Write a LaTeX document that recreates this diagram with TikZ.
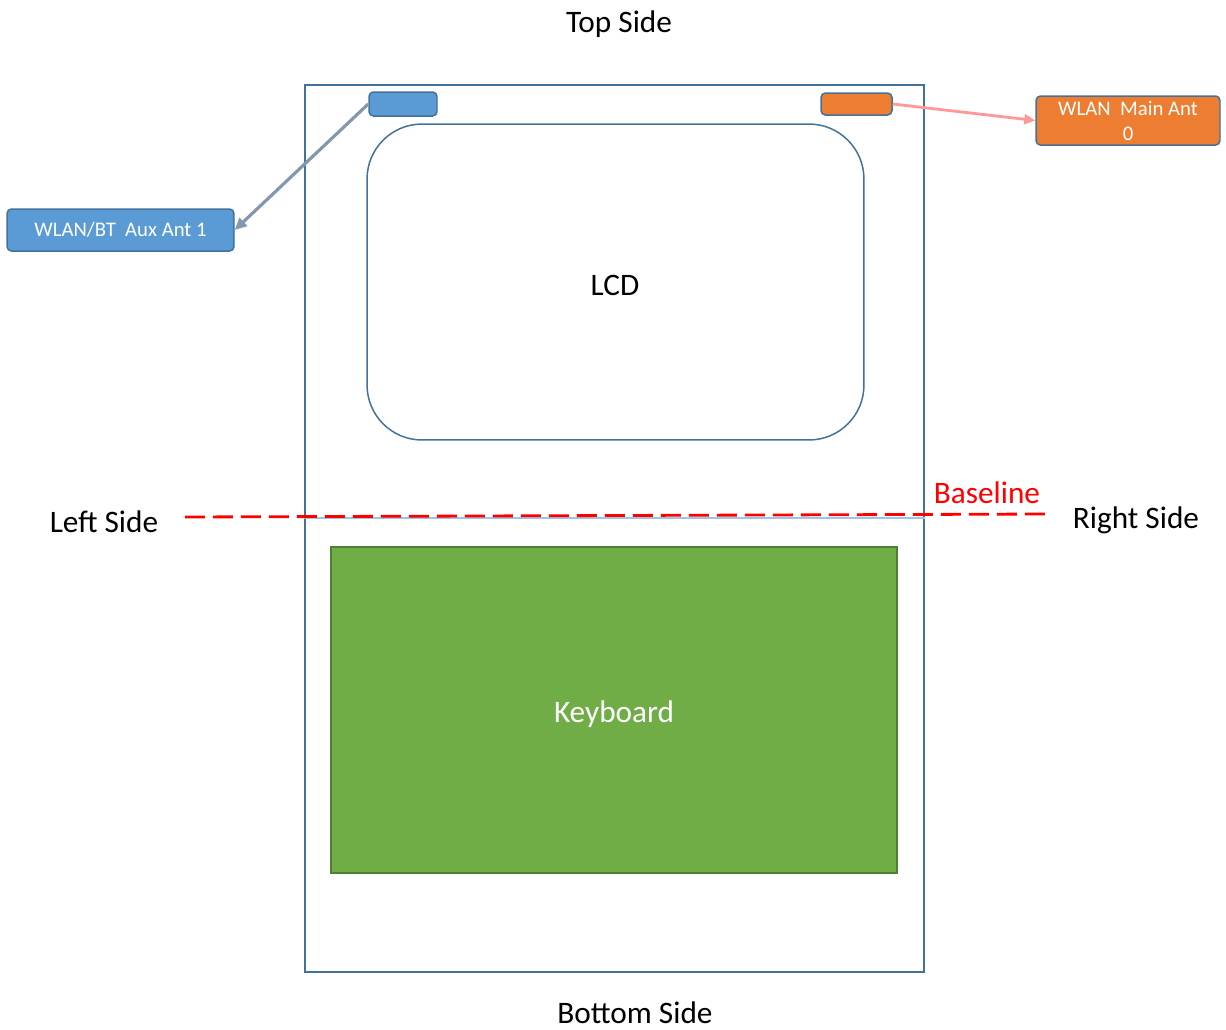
\documentclass[tikz,border=0pt]{standalone}
\usepackage{fontspec}
\setmainfont{Carlito}
\usetikzlibrary{arrows.meta}

\definecolor{edgeblue}{RGB}{65,113,156}
\definecolor{antblue}{RGB}{91,155,213}
\definecolor{antorange}{RGB}{237,125,49}
\definecolor{keygreen}{RGB}{112,173,71}
\definecolor{keyedge}{RGB}{80,126,50}
\definecolor{auxarrow}{RGB}{132,151,176}
\definecolor{mainarrow}{RGB}{255,153,153}
\definecolor{lightline}{RGB}{157,195,230}

\begin{document}
\begin{tikzpicture}[x=0.02cm,y=-0.02cm,
    box/.style={draw=edgeblue, line width=0.85pt, inner sep=0pt},
    ant/.style={box, rounded corners=2.5pt},
    tag/.style={ant, text=white, align=center, font=\fontsize{11.8}{14.2}\selectfont},
    side/.style={font=\fontsize{17.8}{20}\selectfont}]

\useasboundingbox (0,0) rectangle (1226,1029);

% laptop body, screen and keyboard
\node (case) [box, minimum width=12.38cm, minimum height=17.74cm] at (614.5,528.5) {};
\draw [lightline, line width=0.8pt] (case.west |- 0,518) -- (case.east |- 0,518);
\node (lcd) [box, rounded corners=1.1cm, minimum width=9.94cm, minimum height=6.32cm] at (615.5,282) {};
\node (kbd) [draw=keyedge, fill=keygreen, line width=0.8pt, inner sep=0pt,
    minimum width=11.32cm, minimum height=6.52cm] at (614,710) {};
\node [side] at (615,285) {LCD};
\node [side, text=white] at (614,714) {Keyboard};

% antennas
\node (aux) [ant, fill=antblue, minimum width=1.36cm, minimum height=0.48cm] at (403,104) {};
\node (main) [ant, fill=antorange, minimum width=1.42cm, minimum height=0.44cm] at (856.5,104) {};
\node (auxtag) [tag, fill=antblue, minimum width=4.54cm, minimum height=0.84cm] at (120.5,230) {WLAN/BT\ \ Aux Ant 1};
\node (maintag) [tag, fill=antorange, minimum width=3.68cm, minimum height=0.98cm] at (1128,120.5) {WLAN\ \ Main Ant\\0};

\draw [auxarrow, line width=1.8pt, -{Triangle[length=0.24cm,width=0.22cm]}] (aux.west) -- (auxtag.east);
\draw [mainarrow, line width=1.6pt, -{Triangle[length=0.22cm,width=0.2cm]}] (main.east) -- (maintag.west);

% sides and baseline
\node (top) [side] at (619,24) {Top Side};
\node (bottom) [side] at (635,1013) {Bottom Side};
\node (left) [side] at (104,522) {Left Side};
\node (right) [side] at (1136,520) {Right Side};
\coordinate (b0) at (185,517);
\coordinate (b1) at (1047,514);
\draw [red, line width=1.6pt, dash pattern=on 0.4cm off 0.16cm] (b0) -- (b1);
\node (base) [side, text=red] at (987,493) {Baseline};

\end{tikzpicture}
\end{document}
